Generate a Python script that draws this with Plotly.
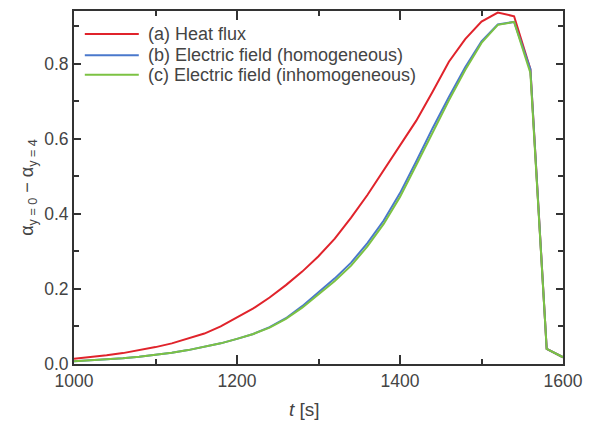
import plotly.graph_objects as go

t = [1000, 1020, 1040, 1060, 1080, 1100, 1120, 1140, 1160, 1180,
     1200, 1220, 1240, 1260, 1280, 1300, 1320, 1340, 1360, 1380,
     1400, 1420, 1440, 1460, 1480, 1500, 1520, 1540, 1560, 1580, 1600]

heat_flux = [0.014, 0.018, 0.023, 0.029, 0.036, 0.045, 0.055, 0.067, 0.081, 0.100,
             0.123, 0.148, 0.177, 0.210, 0.246, 0.287, 0.334, 0.390, 0.450, 0.515,
             0.580, 0.648, 0.725, 0.805, 0.865, 0.912, 0.936, 0.926, 0.785, 0.040, 0.018]

ef_homog = [0.007, 0.009, 0.012, 0.015, 0.019, 0.024, 0.030, 0.037, 0.045, 0.055,
            0.067, 0.080, 0.098, 0.122, 0.154, 0.190, 0.228, 0.270, 0.322, 0.382,
            0.455, 0.540, 0.628, 0.711, 0.790, 0.859, 0.904, 0.911, 0.785, 0.040, 0.018]

ef_inhomog = [0.007, 0.009, 0.012, 0.015, 0.019, 0.024, 0.030, 0.037, 0.045, 0.055,
              0.067, 0.080, 0.097, 0.120, 0.150, 0.185, 0.221, 0.262, 0.313, 0.373,
              0.445, 0.530, 0.618, 0.702, 0.783, 0.855, 0.903, 0.911, 0.775, 0.040, 0.018]

names = ["(a) Heat flux", "(b) Electric field (homogeneous)", "(c) Electric field (inhomogeneous)"]
colors = ["#e0232b", "#4a78cc", "#7cc243"]

FONT = "Arial, Liberation Sans, sans-serif"
TXT = "#444444"

fig = go.Figure()
for y, n, c in zip([heat_flux, ef_homog, ef_inhomog], names, colors):
    fig.add_trace(go.Scatter(x=t, y=y, mode="lines", name=n, showlegend=False,
                             line=dict(color=c, width=2)))

axis_common = dict(
    showline=True, linecolor="#333333", linewidth=2, mirror="ticks",
    ticks="inside", tickcolor="#333333", tickwidth=2,
    showgrid=False, zeroline=False,
    tickfont=dict(family=FONT, size=17.5, color=TXT),
)

fig.update_xaxes(range=[1000, 1600], tickvals=[1000, 1200, 1400, 1600], ticklen=9,
                 minor=dict(tickvals=[1100, 1300, 1500], ticklen=5, ticks="inside",
                            tickcolor="#333333", tickwidth=1.5),
                 **axis_common)
fig.update_yaxes(range=[0, 0.94], tickvals=[0, 0.2, 0.4, 0.6, 0.8], tickformat=".1f", ticklen=7,
                 minor=dict(tickvals=[0.1, 0.3, 0.5, 0.7, 0.9], ticklen=5, ticks="inside",
                            tickcolor="#333333", tickwidth=1.5),
                 title=dict(text="α<sub>y = 0</sub> − α<sub>y = 4</sub>",
                            font=dict(family=FONT, size=18, color=TXT), standoff=6),
                 **axis_common)

# x-axis title
fig.add_annotation(text="<i>t</i> [s]", xref="paper", yref="paper",
                   x=0.472, y=-0.13, xanchor="center", yanchor="middle",
                   showarrow=False, font=dict(family=FONT, size=19, color=TXT))

# legend drawn in the upper-left corner
leg_y = [0.935, 0.8746, 0.8197]
for ly, n, c in zip(leg_y, names, colors):
    fig.add_shape(type="line", xref="paper", yref="paper",
                  x0=0.0221, x1=0.1325, y0=ly, y1=ly,
                  line=dict(color=c, width=2))
    fig.add_annotation(text=n, xref="paper", yref="paper", x=0.1466, y=ly,
                       xanchor="left", yanchor="middle", showarrow=False,
                       font=dict(family=FONT, size=18, color=TXT))

fig.update_layout(
    width=592, height=426,
    margin=dict(l=74, r=20, t=9, b=62),
    paper_bgcolor="white", plot_bgcolor="white",
    showlegend=False,
)

fig.write_html("out.html")
